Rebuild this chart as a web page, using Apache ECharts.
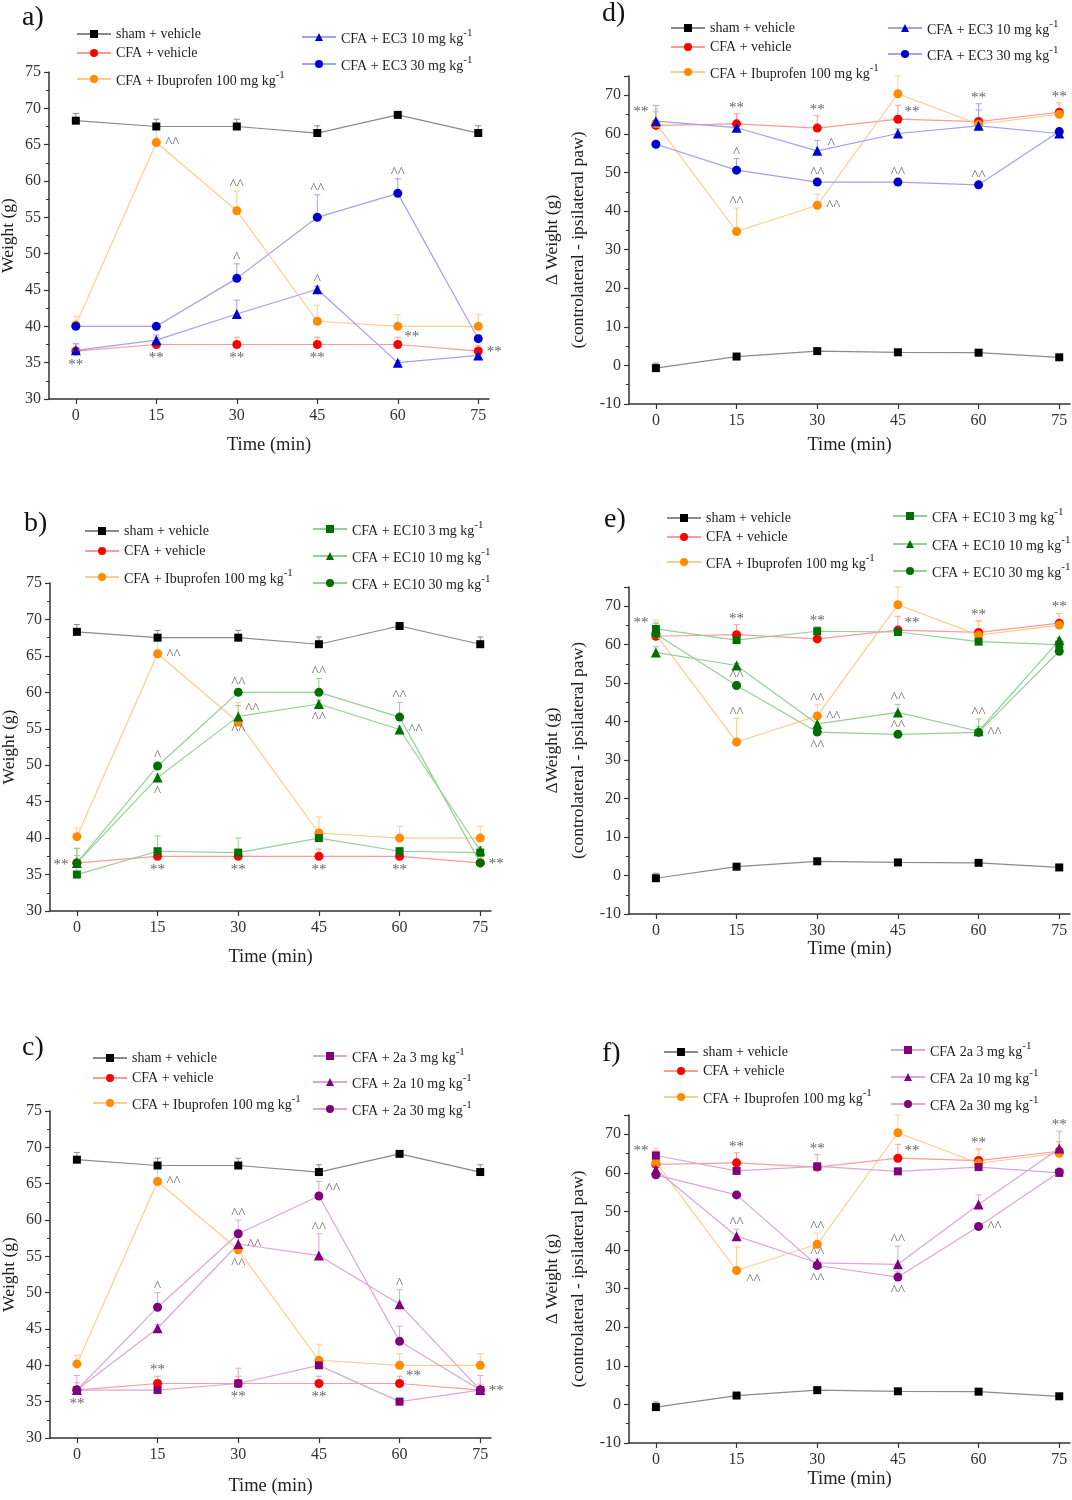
<!DOCTYPE html>
<html><head><meta charset="utf-8">
<script src="https://cdn.jsdelivr.net/npm/echarts@6/dist/echarts.min.js"></script>
<style>html,body{margin:0;padding:0;background:#fff}#c{width:1072px;height:1500px}</style>
</head><body><div id="c"></div>
<script>
// ---------- DATA ----------
const times = [0, 15, 30, 45, 60, 75];

// Weight panels (a, b, c) - shared groups
const shamW = [68.3, 67.5, 67.5, 66.6, 69.1, 66.6];
const shamWErr = [1.0, 1.0, 1.0, 1.0, 0.3, 1.0];
const vehW = [36.6, 37.5, 37.5, 37.5, 37.5, 36.6];
const vehWErr = [1.0, 1.0, 1.0, 1.0, 1.0, 0.8];
const ibuW = [40.2, 65.3, 55.9, 40.7, 40.0, 40.0];
const ibuWErr = [1.2, 1.8, 2.7, 2.2, 1.6, 1.6];
// a) EC3
const ec3_10W = [36.7, 38.1, 41.7, 45.1, 35.0, 36.0];
const ec3_10WErr = [0.9, 0.7, 1.9, 0.4, 0.3, 0.3];
const ec3_30W = [40.0, 40.0, 46.6, 55.0, 58.3, 38.3];
const ec3_30WErr = [0.3, 0.3, 2.0, 3.1, 2.0, 0.5];
// b) EC10
const ec10_3W = [35.0, 38.2, 38.0, 40.0, 38.2, 38.0];
const ec10_3WErr = [1.5, 2.1, 2.0, 0.5, 0.5, 0.5];
const ec10_10W = [36.6, 48.3, 56.7, 58.4, 54.9, 38.3];
const ec10_10WErr = [2.0, 0.5, 1.5, 0.5, 0.5, 0.5];
const ec10_30W = [36.6, 49.9, 60.0, 60.0, 56.6, 36.6];
const ec10_30WErr = [2.0, 0.5, 0.5, 1.9, 2.0, 0.5];
// c) 2a
const c2a_3W = [36.6, 36.6, 37.5, 40.0, 35.0, 36.6];
const c2a_3WErr = [2.0, 0.5, 2.1, 0.5, 0.5, 2.0];
const c2a_10W = [36.6, 45.1, 56.7, 55.1, 48.4, 36.6];
const c2a_10WErr = [0.5, 0.5, 1.2, 3.0, 2.0, 0.5];
const c2a_30W = [36.6, 48.0, 58.1, 63.3, 43.3, 36.6];
const c2a_30WErr = [0.5, 2.0, 1.9, 2.0, 2.1, 0.5];

// Delta weight panels (d, e, f) - shared groups
const shamD = [-0.7, 2.3, 3.7, 3.4, 3.3, 2.1];
const shamDErr = [1.3, 0.4, 0.6, 0.4, 0.4, 0.4];
const vehD = [62.2, 62.6, 61.5, 63.8, 63.2, 65.6];
const vehDErr = [3.5, 2.6, 3.2, 3.6, 3.0, 2.5];
const ibuD = [62.7, 34.7, 41.5, 70.4, 62.5, 65.1];
const ibuDErr = [3.7, 6.1, 2.9, 4.6, 3.5, 3.0];
// d) EC3
const ec3_10D = [63.3, 61.6, 55.6, 60.1, 62.1, 60.1];
const ec3_10DErr = [4.1, 1.0, 2.7, 1.2, 5.7, 0.5];
const ec3_30D = [57.3, 50.6, 47.5, 47.5, 46.8, 60.6];
const ec3_30DErr = [0.5, 3.0, 0.8, 0.8, 0.8, 0.8];
// e) EC10
const ec10_3D = [64.1, 61.2, 63.5, 63.3, 60.8, 60.0];
const ec10_3DErr = [1.5, 0.5, 1.0, 0.5, 0.5, 0.5];
const ec10_10D = [58.0, 54.6, 39.4, 42.4, 37.5, 61.2];
const ec10_10DErr = [1.5, 0.5, 1.2, 2.1, 3.2, 0.5];
const ec10_30D = [62.8, 49.4, 37.3, 36.7, 37.2, 58.3];
const ec10_30DErr = [1.0, 1.0, 1.0, 0.5, 1.5, 1.0];
// f) 2a
const f2a_3D = [64.5, 60.5, 61.7, 60.4, 61.5, 60.0];
const f2a_3DErr = [1.0, 0.5, 0.5, 0.5, 0.5, 0.5];
const f2a_10D = [60.8, 43.6, 36.7, 36.3, 51.8, 66.3];
const f2a_10DErr = [1.0, 1.8, 1.0, 4.7, 2.5, 4.5];
const f2a_30D = [59.5, 54.3, 36.0, 33.0, 46.1, 60.2];
const f2a_30DErr = [1.0, 0.5, 0.5, 1.5, 0.5, 0.5];

// Series names
const N_SHAM = 'sham + vehicle';
const N_VEH = 'CFA + vehicle';
const N_IBU = 'CFA + Ibuprofen 100 mg kg-1';

// Significance marks: [text, series key, point index, placement]
const notesA = [['**','veh',0,'below'],['**','veh',1,'below'],['**','veh',2,'below'],['**','veh',3,'below'],['**','veh',4,'upright'],['**','veh',5,'right'],
  ['^^','ibu',1,'right'],['^^','ibu',2,'above'],['^','s30',2,'above'],['^^','s30',3,'above'],['^^','s30',4,'above'],['^','s10',3,'above']];
const notesB = [['**','s30',0,'left'],['**','veh',1,'below'],['**','veh',2,'below'],['**','veh',3,'below'],['**','veh',4,'below'],['**','s30',5,'right'],
  ['^^','ibu',1,'right'],['^^','s30',2,'above'],['^^','s10',2,'upright'],['^^','s10',2,'below'],['^^','s30',3,'above'],['^^','s10',3,'below'],
  ['^^','s30',4,'above'],['^^','s10',4,'right'],['^','s30',1,'above'],['^','s10',1,'below']];
const notesC = [['**','veh',0,'below'],['**','veh',1,'above'],['**','veh',2,'below'],['**','veh',3,'below'],['**','veh',4,'upright'],['**','veh',5,'right'],
  ['^^','ibu',1,'right'],['^^','s30',2,'above'],['^^','s10',2,'right'],['^^','ibu',2,'below'],['^^','s30',3,'upright'],['^^','s10',3,'above'],
  ['^','s10',4,'above'],['^','s30',1,'above']];
const notesD = [['**','veh',0,'upleft'],['**','veh',1,'above'],['**','veh',2,'above'],['**','veh',3,'upright'],['**','s10',4,'above'],['**','veh',5,'above'],
  ['^','s30',1,'above'],['^','s10',2,'upright'],['^^','s30',2,'above'],['^^','s30',3,'above'],['^^','s30',4,'above'],['^^','ibu',1,'above'],['^^','ibu',2,'right']];
const notesE = [['**','veh',0,'upleft'],['**','veh',1,'above'],['**','s3',2,'above'],['**','veh',3,'upright'],['**','veh',4,'above'],['**','veh',5,'above'],
  ['^^','s30',1,'above'],['^^','ibu',1,'above'],['^^','ibu',2,'above'],['^^','ibu',2,'right'],['^^','s30',2,'below'],
  ['^^','s10',3,'above'],['^^','s10',3,'below'],['^^','s10',4,'above'],['^^','s30',4,'right']];
const notesF = [['**','veh',0,'upleft'],['**','veh',1,'above'],['**','veh',2,'above'],['**','veh',3,'upright'],['**','veh',4,'above'],['**','s10',5,'above'],
  ['^^','s10',1,'above'],['^^','ibu',1,'downright'],['^^','ibu',2,'above'],['^^','s10',2,'above'],['^^','s30',2,'below'],
  ['^^','s10',3,'above'],['^^','s30',3,'below'],['^^','s30',4,'right']];

// ---------- STYLE / LAYOUT ----------
const FONT = "'Liberation Serif','Times New Roman',serif";
const COL = {
  sham: {m:'#000000', l:'#8a8a8a'},
  veh: {m:'#ff0000', l:'#ff9a9a'},
  ibu: {m:'#ff8c00', l:'#ffcc8f'},
  blue: {m:'#0000cc', l:'#a0a0f4'},
  green: {m:'#006e00', l:'#95cf95'},
  purple: {m:'#7f007f', l:'#d9a8d9'}
};
const SYM = {square:['rect',8], circle:['circle',9], triangle:['triangle',10]};
const PLACE = {above:[0,-9,1], below:[0,11,0], right:[16,-2,0], left:[-16,-1,0],
  upright:[14,-10,0], upleft:[-15,-16,0], downright:[17,7,0]};

function groupW(){ return [
  ['sham', N_SHAM, shamW, shamWErr, 'sham', 'square'],
  ['veh', N_VEH, vehW, vehWErr, 'veh', 'circle'],
  ['ibu', N_IBU, ibuW, ibuWErr, 'ibu', 'circle']]; }
function groupD(){ return [
  ['sham', N_SHAM, shamD, shamDErr, 'sham', 'square'],
  ['veh', N_VEH, vehD, vehDErr, 'veh', 'circle'],
  ['ibu', N_IBU, ibuD, ibuDErr, 'ibu', 'circle']]; }

const panels = [
 {label:'a)', lab:[22,4], grid:{left:49,top:72,width:440,height:327}, y:[30,75,5], yName:'Weight (g)', yGap:26, xGap:37,
  series: groupW().concat([
   ['s10','CFA + EC3 10 mg kg-1', ec3_10W, ec3_10WErr, 'blue', 'triangle'],
   ['s30','CFA + EC3 30 mg kg-1', ec3_30W, ec3_30WErr, 'blue', 'circle']]),
  legend:[[76,34],[76,53],[76,80],[301,38],[301,65]], notes:notesA},
 {label:'b)', lab:[24,510], grid:{left:50,top:583,width:441,height:328}, y:[30,75,5], yName:'Weight (g)', yGap:26, xGap:37,
  series: groupW().concat([
   ['s3','CFA + EC10 3 mg kg-1', ec10_3W, ec10_3WErr, 'green', 'square'],
   ['s10','CFA + EC10 10 mg kg-1', ec10_10W, ec10_10WErr, 'green', 'triangle'],
   ['s30','CFA + EC10 30 mg kg-1', ec10_30W, ec10_30WErr, 'green', 'circle']]),
  legend:[[84,531],[84,551],[84,578],[312,530],[312,557],[312,584]], notes:notesB},
 {label:'c)', lab:[22,1034], grid:{left:50,top:1111,width:441,height:327}, y:[30,75,5], yName:'Weight (g)', yGap:26, xGap:39,
  series: groupW().concat([
   ['s3','CFA + 2a 3 mg kg-1', c2a_3W, c2a_3WErr, 'purple', 'square'],
   ['s10','CFA + 2a 10 mg kg-1', c2a_10W, c2a_10WErr, 'purple', 'triangle'],
   ['s30','CFA + 2a 30 mg kg-1', c2a_30W, c2a_30WErr, 'purple', 'circle']]),
  legend:[[92,1058],[92,1078],[92,1104],[312,1057],[312,1083],[312,1110]], notes:notesC},
 {label:'d)', lab:[602,0], grid:{left:629,top:76,width:441,height:328}, y:[-10,75,10], yName:'\u0394 Weight (g)\n(controlateral - ipsilateral paw)', yGap:38, xGap:32,
  series: groupD().concat([
   ['s10','CFA + EC3 10 mg kg-1', ec3_10D, ec3_10DErr, 'blue', 'triangle'],
   ['s30','CFA + EC3 30 mg kg-1', ec3_30D, ec3_30DErr, 'blue', 'circle']]),
  legend:[[670,28],[670,47],[670,73],[887,29],[887,55]], notes:notesD},
 {label:'e)', lab:[604,506], grid:{left:629,top:587,width:441,height:327}, y:[-10,75,10], yName:'\u0394Weight (g)\n(controlateral - ipsilateral paw)', yGap:38, xGap:26,
  series: groupD().concat([
   ['s3','CFA + EC10 3 mg kg-1', ec10_3D, ec10_3DErr, 'green', 'square'],
   ['s10','CFA + EC10 10 mg kg-1', ec10_10D, ec10_10DErr, 'green', 'triangle'],
   ['s30','CFA + EC10 30 mg kg-1', ec10_30D, ec10_30DErr, 'green', 'circle']]),
  legend:[[666,518],[666,537],[666,563],[892,517],[892,545],[892,572]], notes:notesE},
 {label:'f)', lab:[602,1040], grid:{left:629,top:1115,width:441,height:328}, y:[-10,75,10], yName:'\u0394 Weight (g)\n(controlateral - ipsilateral paw)', yGap:38, xGap:27,
  series: groupD().concat([
   ['s3','CFA 2a 3 mg kg-1', f2a_3D, f2a_3DErr, 'purple', 'square'],
   ['s10','CFA 2a 10 mg kg-1', f2a_10D, f2a_10DErr, 'purple', 'triangle'],
   ['s30','CFA 2a 30 mg kg-1', f2a_30D, f2a_30DErr, 'purple', 'circle']]),
  legend:[[663,1052],[663,1071],[663,1098],[890,1051],[890,1078],[890,1105]], notes:notesF}
];

function richName(n){
  const m = n.match(/^(.*) kg-1$/);
  return m ? '{m|' + m[1] + ' kg}{s|-1}' : '{m|' + n + '}';
}

const option = {animation:false, backgroundColor:'#fff', title:[], grid:[], xAxis:[], yAxis:[], legend:[], series:[]};

panels.forEach((p, i) => {
  option.title.push({text:p.label, left:p.lab[0], top:p.lab[1], padding:0,
    textStyle:{fontFamily:FONT, fontSize:28, fontWeight:'normal', color:'#111'}});
  option.grid.push(Object.assign({containLabel:false, outerBoundsMode:'none'}, p.grid));
  option.xAxis.push({gridIndex:i, type:'value', min:-5, max:77,
    name:'Time (min)', nameLocation:'middle', nameGap:p.xGap,
    nameTextStyle:{fontFamily:FONT, fontSize:18.5, color:'#222'},
    axisLine:{show:true, onZero:false, lineStyle:{color:'#333', width:1.5}},
    axisTick:{show:true, customValues:times, length:5, lineStyle:{color:'#333', width:1.2}},
    axisLabel:{show:true, customValues:times, fontFamily:FONT, fontSize:16, color:'#333', margin:9},
    splitLine:{show:false}});
  option.yAxis.push({gridIndex:i, type:'value', min:p.y[0], max:p.y[1], interval:p.y[2],
    name:p.yName, nameLocation:'middle', nameRotate:90, nameGap:p.yGap,
    nameTextStyle:{fontFamily:FONT, fontSize:17.5, color:'#222', lineHeight:26},
    axisLine:{show:true, onZero:false, lineStyle:{color:'#333', width:1.5}},
    axisTick:{show:true, length:5, lineStyle:{color:'#333', width:1.2}},
    minorTick:{show:true, splitNumber:2, length:3, lineStyle:{color:'#333', width:1}},
    axisLabel:{fontFamily:FONT, fontSize:16, color:'#333', margin:8, showMaxLabel: p.y[0] === 30},
    splitLine:{show:false}, minorSplitLine:{show:false}});

  const byKey = {};
  p.series.forEach(([key, name, vals, errs, col, shape], k) => {
    byKey[key] = [vals, errs];
    const c = COL[col];
    // error bars (upper)
    option.series.push({type:'custom', xAxisIndex:i, yAxisIndex:i, silent:true, z:2,
      data: vals.map((v, j) => [times[j], v, errs[j]]),
      renderItem: (params, api) => {
        const x = api.value(0), v = api.value(1), e = api.value(2);
        const p0 = api.coord([x, v]), p1 = api.coord([x, v + e]);
        return {type:'group', children:[
          {type:'line', shape:{x1:p0[0], y1:p0[1], x2:p1[0], y2:p1[1]}, style:{stroke:c.l, lineWidth:1}},
          {type:'line', shape:{x1:p1[0]-3, y1:p1[1], x2:p1[0]+3, y2:p1[1]}, style:{stroke:c.l, lineWidth:1}}
        ]};
      }});
    option.series.push({type:'line', name:name, xAxisIndex:i, yAxisIndex:i, z:3 + k,
      data: vals.map((v, j) => [times[j], v]),
      symbol:SYM[shape][0], symbolSize:SYM[shape][1], showAllSymbol:true,
      lineStyle:{color:c.l, width:1.2}, itemStyle:{color:c.m},
      emphasis:{disabled:true}});
  });

  p.series.forEach(([key, name], k) => {
    const sup = /kg-1$/.test(name);
    option.legend.push({data:[name], left:p.legend[k][0], top:p.legend[k][1] - (sup ? 10 : 7),
      padding:0, itemGap:0, itemWidth:34, itemHeight:10, selectedMode:false,
      formatter: richName,
      textStyle:{color:'#222', fontFamily:FONT, fontSize:14,
        rich:{m:{fontFamily:FONT, fontSize:14, color:'#222', verticalAlign:'bottom'},
              s:{fontFamily:FONT, fontSize:11, color:'#222', verticalAlign:'top', padding:[0,0,7,0]}}}});
  });

  option.series.push({type:'scatter', xAxisIndex:i, yAxisIndex:i, silent:true, z:10,
    symbol:'circle', symbolSize:0.1, itemStyle:{color:'rgba(0,0,0,0)'},
    label:{show:true, position:'inside', fontFamily:FONT, fontSize:15, color:'#3a3a3a'},
    data: p.notes.map(([t, key, idx, place]) => {
      const [vals, errs] = byKey[key];
      const o = PLACE[place];
      const base = o[2] ? vals[idx] + errs[idx] : vals[idx];
      return {value:[times[idx], base], label:{formatter:t, offset:[o[0], o[1] + 3]}};
    })});
});

const chart = echarts.init(document.getElementById('c'), null, {renderer:'canvas'});
chart.setOption(option);
</script></body></html>
